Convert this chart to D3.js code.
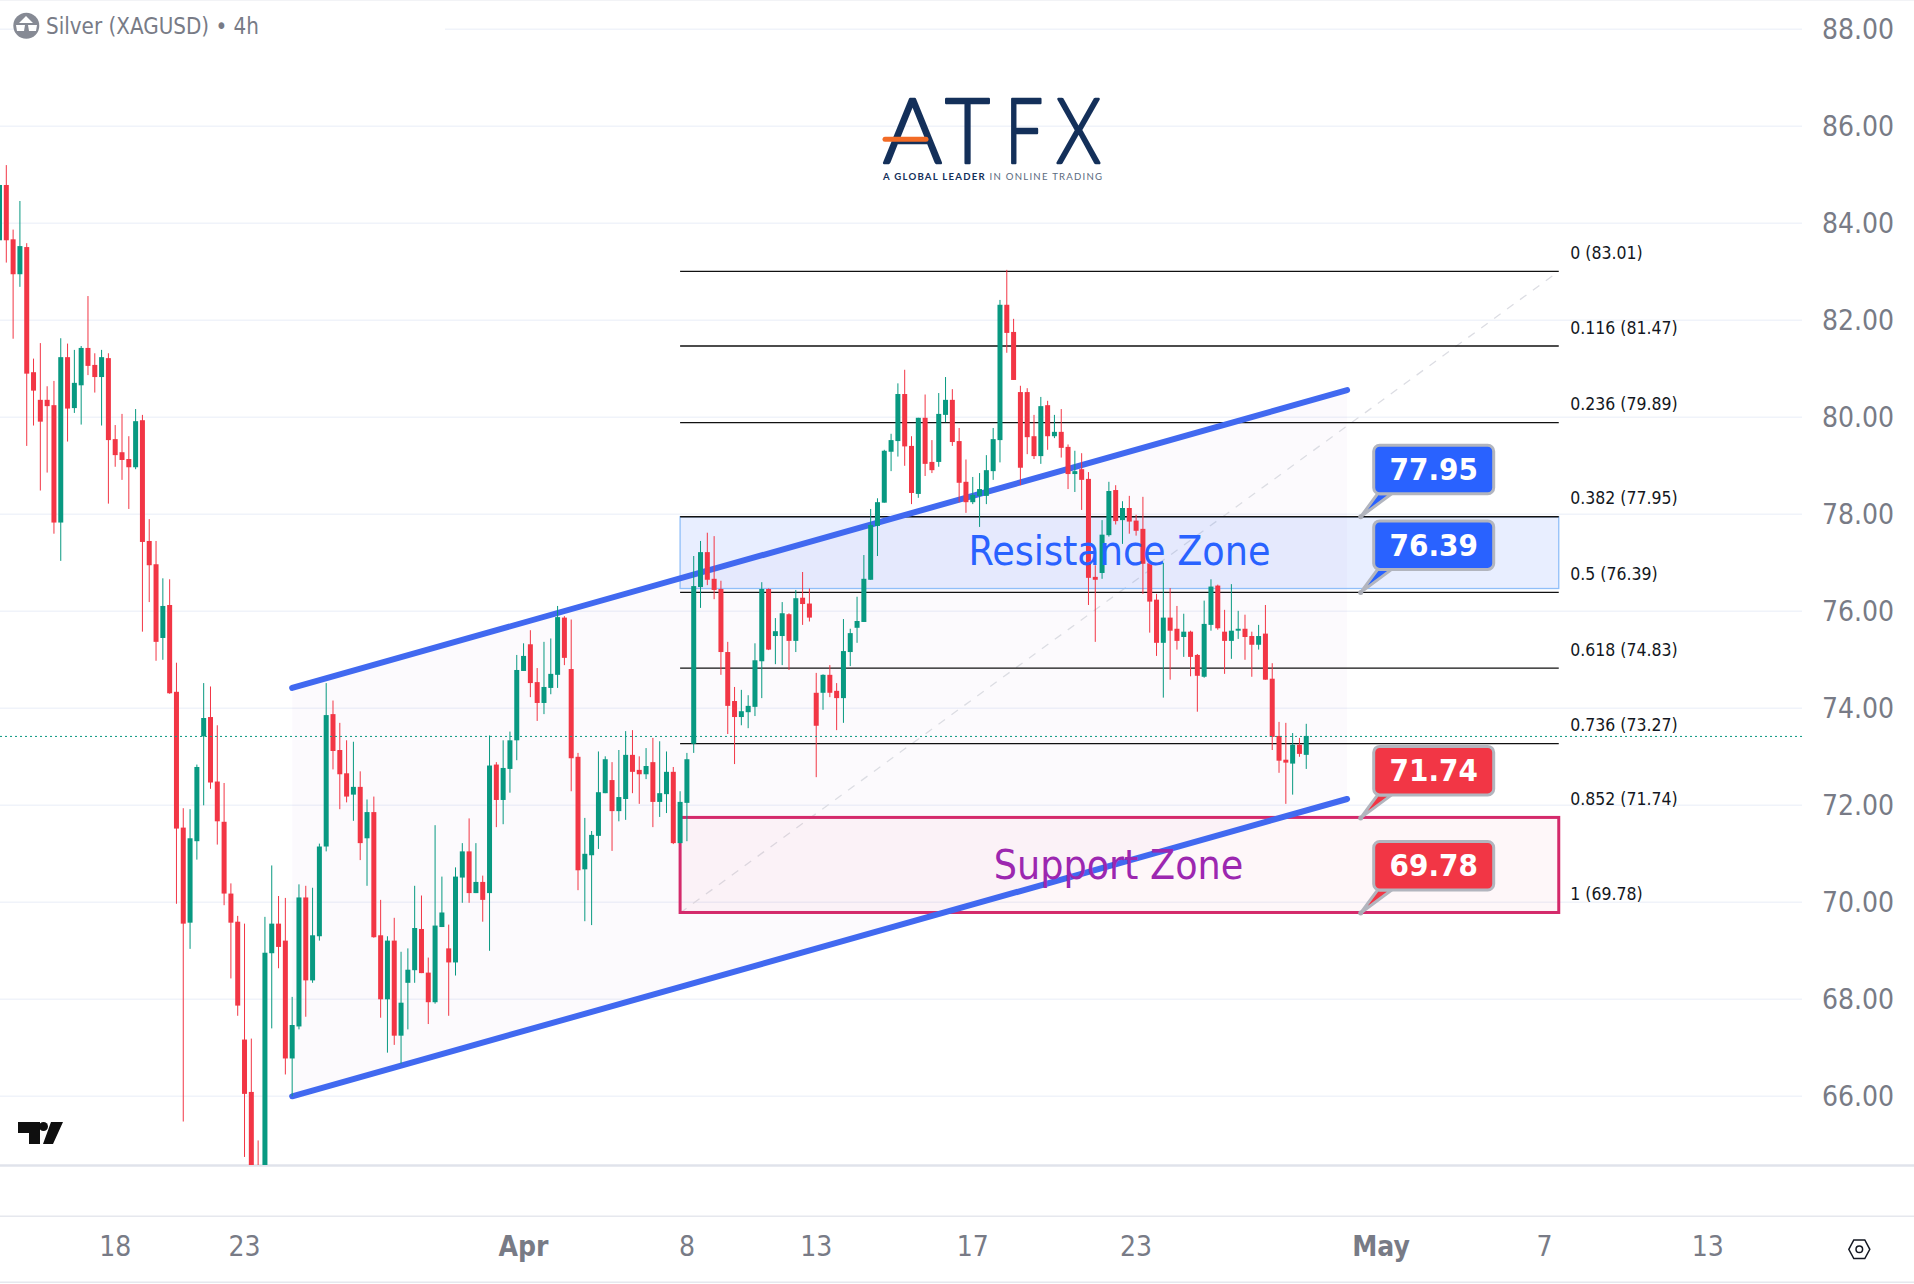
<!DOCTYPE html>
<html><head><meta charset="utf-8">
<script src="https://cdn.jsdelivr.net/npm/d3@7/dist/d3.min.js"></script>
<style>
html,body{margin:0;padding:0;background:#fff;overflow:hidden}
svg{display:block}
text{font-family:'DejaVu Sans Condensed','DejaVu Sans',sans-serif;font-stretch:condensed}
.logo{font-family:'Lato',sans-serif;font-stretch:normal}
</style></head><body>
<svg id="c" width="1914" height="1284"></svg>
<script>
const opens=[83.65,
84.79,83.67,82.95,83.51,80.93,80.36,80.36,80.25,77.83,81.24,
80.19,80.66,81.43,81.08,80.83,81.22,79.55,79.28,79.14,78.97,
79.94,77.45,76.97,75.45,76.13,74.34,71.54,69.58,71.26,73.42,
73.82,72.49,71.66,70.18,69.60,67.17,66.09,64.50,64.40,68.95,
69.56,69.21,66.78,67.44,70.10,68.39,69.30,71.15,73.88,73.14,
72.66,72.22,72.38,71.32,71.86,69.32,68.00,69.21,67.25,68.34,
68.60,69.45,68.55,67.94,69.49,69.05,68.76,70.51,71.05,70.19,
70.42,70.19,72.84,72.11,72.75,73.34,74.77,75.32,74.54,74.11,
74.42,74.69,75.87,74.81,73.00,70.68,70.97,71.37,72.25,72.52,
71.88,72.13,73.04,72.73,72.64,72.89,72.07,72.23,72.69,71.22,
72.05,73.27,76.50,77.22,76.67,76.46,75.16,74.15,73.82,73.92,
74.03,74.97,76.46,75.49,75.49,75.94,75.39,76.28,76.16,74.32,
74.32,74.69,74.36,74.21,75.16,75.66,75.78,76.65,77.76,78.24,
79.29,79.51,80.48,79.41,78.42,79.99,79.08,79.08,80.05,80.36,
79.51,78.67,78.25,78.38,78.38,78.89,79.53,82.32,81.76,80.52,
80.52,79.61,79.20,80.25,79.61,79.70,79.39,78.83,78.93,78.73,
76.71,76.79,77.57,78.50,77.88,78.13,77.87,77.70,76.99,76.24,
75.35,75.87,75.64,75.47,75.58,75.10,74.65,75.72,76.53,75.58,
75.39,75.60,75.64,75.49,75.31,75.54,74.61,73.43,72.94,72.86,73.25,73.04];
const closes=[84.79,
83.65,82.95,83.53,80.90,80.55,79.91,80.23,77.83,81.24,80.18,
80.71,81.43,81.06,80.83,81.24,79.53,79.22,79.12,78.97,79.92,
77.43,76.95,75.37,76.11,74.31,71.52,69.56,71.32,72.79,73.80,
72.47,71.67,70.18,69.58,67.87,66.05,64.40,64.30,68.96,69.56,
69.08,66.78,67.47,70.10,68.39,69.32,71.15,73.86,73.12,72.64,
72.18,72.38,71.22,71.86,69.28,68.00,69.21,67.25,67.93,68.61,
69.47,68.54,67.94,69.52,69.79,68.76,70.53,71.05,70.19,70.42,
70.05,72.82,72.11,72.77,73.34,74.79,75.08,74.52,74.11,74.44,
74.71,75.88,75.04,72.97,70.66,71.00,71.39,72.27,72.95,71.88,
72.17,73.04,72.69,72.64,72.81,72.07,72.25,72.69,71.22,72.07,
72.95,76.52,77.22,76.65,76.44,75.16,74.05,73.82,73.94,74.05,
74.99,76.46,75.21,75.59,75.96,75.39,76.27,76.15,75.87,73.64,
74.69,74.32,74.21,75.18,75.55,75.80,76.67,77.78,78.25,79.31,
79.53,80.48,79.40,78.44,79.99,79.04,78.91,80.07,80.36,79.49,
78.65,78.25,78.40,78.52,78.91,79.55,82.32,81.74,80.77,78.96,
79.59,79.20,80.23,79.61,79.70,79.37,78.83,78.89,78.71,76.69,
76.65,77.58,78.48,77.86,78.13,77.85,77.66,76.98,76.20,75.35,
75.87,75.60,75.39,75.58,75.06,74.67,75.74,76.51,75.65,75.39,
75.60,75.64,75.47,75.31,75.49,74.59,73.41,72.92,72.88,73.25,73.06,73.43];
const highs=[84.80,
85.20,83.87,84.46,83.59,81.21,81.53,80.64,80.75,81.63,81.52,
81.39,81.47,82.50,81.32,81.39,81.32,79.84,80.07,79.61,80.17,
80.05,77.90,77.45,76.68,76.66,74.94,71.94,71.92,72.84,74.52,
74.45,73.65,72.46,70.39,69.72,69.56,67.19,65.09,69.70,70.76,
70.13,70.09,68.05,70.37,70.34,70.30,71.21,74.52,74.16,73.70,
73.34,73.31,72.70,72.12,72.18,70.05,69.30,69.68,68.98,69.05,
70.34,70.14,68.86,71.59,70.53,69.54,70.72,71.22,71.73,71.22,
70.55,73.44,72.89,73.34,73.52,75.10,75.34,75.61,74.83,75.37,
75.44,76.11,75.90,75.83,73.08,71.74,71.47,73.11,73.01,72.89,
73.14,73.53,73.55,73.01,73.18,73.39,73.32,73.11,72.79,72.29,
73.08,77.14,77.45,77.62,77.55,76.63,75.37,74.44,74.38,74.27,
75.34,76.60,76.47,75.86,76.19,75.96,76.44,76.81,76.47,74.73,
74.70,74.89,74.52,75.84,75.64,76.30,77.16,78.11,78.33,79.33,
79.66,80.70,80.98,79.61,79.99,80.47,79.53,80.50,80.83,80.58,
79.78,79.13,78.77,78.85,79.22,79.78,82.42,83.04,82.03,80.65,
80.60,80.05,80.42,80.34,80.05,80.17,79.44,79.31,79.26,78.87,
76.95,77.88,78.67,78.60,78.27,78.38,77.99,78.36,76.99,76.36,
77.00,76.48,76.11,75.95,75.60,75.12,76.22,76.66,76.55,76.03,
76.56,76.01,75.93,75.58,75.72,76.13,74.93,73.72,73.70,73.49,73.39,73.68];
const lows=[83.60,
83.19,81.62,82.69,79.41,79.83,78.49,78.86,77.60,77.04,79.50,
80.09,79.85,80.87,80.51,79.83,78.22,78.98,78.71,78.11,78.93,
75.58,76.19,74.98,75.00,74.30,69.97,65.48,69.04,70.88,72.00,
72.34,71.19,69.94,68.43,67.66,64.75,64.10,64.00,64.10,67.40,
68.64,66.45,66.00,67.38,67.64,68.34,69.21,71.05,72.74,71.92,
72.06,71.68,70.87,70.34,69.27,67.62,66.90,67.06,66.67,67.38,
68.34,68.54,67.49,67.91,69.49,67.66,68.49,69.99,69.99,70.19,
69.60,69.00,71.55,71.61,72.26,72.93,74.77,74.23,73.74,73.88,
74.29,74.42,74.89,72.29,70.25,69.61,69.53,71.10,72.25,71.06,
71.67,71.70,72.25,72.03,72.54,71.55,71.76,71.84,71.20,71.22,
71.26,73.08,76.07,76.54,76.25,74.69,73.47,72.85,73.65,73.59,
73.84,74.21,75.20,74.91,74.89,74.79,75.16,75.72,75.79,72.58,
73.97,74.23,73.55,73.70,74.87,75.35,75.78,76.65,77.14,78.24,
78.89,79.19,79.00,78.21,78.34,78.79,78.85,78.98,79.90,79.41,
78.25,78.03,78.21,77.74,78.21,78.71,79.07,81.33,80.77,78.60,
79.24,79.14,79.04,79.33,79.57,79.17,78.52,78.46,78.09,76.13,
75.37,76.67,77.54,77.79,77.39,77.60,77.56,76.36,75.56,75.08,
74.22,74.59,75.21,75.06,74.66,73.93,74.63,75.60,75.62,74.71,
75.02,75.43,75.00,74.65,75.21,74.59,73.14,72.67,72.03,72.22,73.00,72.75];

const priceTicks=[66,68,70,72,74,76,78,80,82,84,86,88];
const timeTickIndex=[17,36,77,101,120,143,167,203,227,251];
const timeTickLabels=['18','23','Apr','8','13','17','23','May','7','13'];
const timeTickBold=[0,0,1,0,0,0,0,1,0,0];
const fibRatios=['0','0.116','0.236','0.382','0.5','0.618','0.736','0.852','1'];
const fibPrices=[83.01,81.47,79.89,77.95,76.39,74.83,73.27,71.74,69.78];
const fibStartIndex=100, fibEndIndex=229.1;
const channelIndex=[43,198];
const channelTop=[74.42,80.56];
const channelBottom=[66.0,72.13];
const resistanceZone=[77.95,76.47];
const supportZone=[71.75,69.79];
const calloutValues=[77.95,76.39,71.74,69.78];
const calloutColors=['#2962ff','#2962ff','#f23645','#f23645'];
const calloutIndex=200;
const lastPrice=73.42;
const logoLetters=['A','T','F','X'];
const logoLeft=[883,945,1005,1056];
const logoWidth=[59,45,38,45];

const W=1914,H=1284,plotR=1802,plotB=1165;
const x=d3.scaleLinear().domain([0,193]).range([-0.5,1313.06]);
const y=d3.scaleLinear().domain([66,88]).range([1096.3,29.3]);
const svg=d3.select('#c');
svg.append('defs').append('clipPath').attr('id','plot').append('rect')
  .attr('x',0).attr('y',0).attr('width',plotR).attr('height',plotB);

// grid
svg.append('g').selectAll('line').data(priceTicks).join('line')
  .attr('x1',0).attr('x2',plotR).attr('y1',d=>y(d)).attr('y2',d=>y(d))
  .attr('stroke','#f0f3fa').attr('stroke-width',1.5);
svg.append('rect').attr('x',30).attr('y',20).attr('width',415).attr('height',18).attr('fill','#fff');

// frame lines
[[0,1,'#e6e8ee'],[1165.5,2.5,'#e0e3eb'],[1216.3,1.5,'#e6e8ee'],[1282.3,1.5,'#e6e8ee']].forEach(l=>{
  svg.append('line').attr('x1',0).attr('x2',W).attr('y1',l[0]).attr('y2',l[0])
    .attr('stroke',l[2]).attr('stroke-width',l[1]);
});

const draw=svg.append('g').attr('clip-path','url(#plot)');
// channel
const chPts=[[channelIndex[0],channelTop[0]],[channelIndex[1],channelTop[1]],[channelIndex[1],channelBottom[1]],[channelIndex[0],channelBottom[0]]];
draw.append('path').attr('d',d3.line().x(d=>x(d[0])).y(d=>y(d[1]))(chPts)+'Z').attr('fill','rgba(170,90,180,0.03)');

// fib trend
draw.append('line').attr('x1',x(fibStartIndex)).attr('x2',x(fibEndIndex))
  .attr('y1',y(fibPrices[8])).attr('y2',y(fibPrices[0]))
  .attr('stroke','#dcdde3').attr('stroke-width',1.3).attr('stroke-dasharray','8 8');

// zones
draw.append('rect').attr('x',x(fibStartIndex)).attr('width',x(fibEndIndex)-x(fibStartIndex))
  .attr('y',y(resistanceZone[0])).attr('height',y(resistanceZone[1])-y(resistanceZone[0]))
  .attr('fill','rgba(41,98,255,0.105)').attr('stroke','#90bff9').attr('stroke-width',1.3);
draw.append('rect').attr('x',x(fibStartIndex)).attr('width',x(fibEndIndex)-x(fibStartIndex))
  .attr('y',y(supportZone[0])).attr('height',y(supportZone[1])-y(supportZone[0]))
  .attr('fill','rgba(240,40,100,0.04)').attr('stroke','#d42a6b').attr('stroke-width',3);

// fib lines & labels
draw.selectAll('.fib').data(fibPrices.slice(0,7)).join('line').attr('class','fib')
  .attr('x1',x(fibStartIndex)).attr('x2',x(fibEndIndex)).attr('y1',d=>y(d)).attr('y2',d=>y(d))
  .attr('stroke','#111').attr('stroke-width',1.3);
svg.selectAll('.fibl').data(fibPrices).join('text').attr('class','fibl')
  .attr('x',x(fibEndIndex)+11.5).attr('y',d=>y(d)-12.5).attr('font-size',17.5).attr('fill','#131722')
  .text((d,i)=>fibRatios[i]+' ('+d.toFixed(2)+')');

// channel lines
[channelTop,channelBottom].forEach(c=>{
  draw.append('line').attr('x1',x(channelIndex[0])).attr('x2',x(channelIndex[1]))
    .attr('y1',y(c[0])).attr('y2',y(c[1])).attr('stroke','#4169f0').attr('stroke-width',6).attr('stroke-linecap','round');
});

// zone text
svg.append('text').attr('x',1119.5).attr('y',565).attr('text-anchor','middle').attr('font-size',40.7).attr('fill','#2962ff').text('Resistance Zone');
svg.append('text').attr('x',1118.5).attr('y',879).attr('text-anchor','middle').attr('font-size',40.7).attr('fill','#9c27b0').text('Support Zone');

// candles
const up='#089981',down='#f23645';
const cg=draw.append('g');
const idx=d3.range(opens.length);
cg.selectAll('.w').data(idx).join('line').attr('class','w')
  .attr('x1',i=>x(i)).attr('x2',i=>x(i)).attr('y1',i=>y(highs[i])).attr('y2',i=>y(lows[i]))
  .attr('stroke',i=>closes[i]>=opens[i]?up:down).attr('stroke-width',1);
cg.selectAll('.b').data(idx).join('rect').attr('class','b')
  .attr('x',i=>x(i)-2.5).attr('width',5)
  .attr('y',i=>y(Math.max(opens[i],closes[i])))
  .attr('height',i=>Math.max(1,Math.abs(y(opens[i])-y(closes[i]))))
  .attr('fill',i=>closes[i]>=opens[i]?up:down);

// last price
svg.append('line').attr('x1',0).attr('x2',plotR).attr('y1',y(lastPrice)).attr('y2',y(lastPrice))
  .attr('stroke','#089981').attr('stroke-width',1).attr('stroke-dasharray','2 3');

// callouts
calloutValues.forEach((v,i)=>{
  const tx=x(calloutIndex),ty=y(v),bx=tx+13,bw=120,by=ty-71.5,bh=48.5;
  const g=svg.append('g');
  g.append('path').attr('d',`M${bx+4},${by+bh} L${tx},${ty} L${bx+18},${by+bh} Z`)
    .attr('fill',calloutColors[i]).attr('stroke','#b2b5be').attr('stroke-width',3).attr('stroke-linejoin','round');
  g.append('circle').attr('cx',tx).attr('cy',ty).attr('r',2.5).attr('fill','#a9acb5');
  g.append('rect').attr('x',bx).attr('y',by).attr('width',bw).attr('height',bh).attr('rx',6)
    .attr('fill',calloutColors[i]).attr('stroke','#b2b5be').attr('stroke-width',3);
  g.append('text').attr('x',bx+bw/2).attr('y',by+bh/2+10.5).attr('text-anchor','middle')
    .attr('font-size',31).attr('font-weight','bold').attr('fill','#fff').text(v.toFixed(2));
});

// price axis
const ya=svg.append('g').attr('transform','translate(1822,0.5)')
  .call(d3.axisRight(y).tickValues(priceTicks).tickSize(0).tickPadding(0).tickFormat(d=>d.toFixed(2)));
ya.select('.domain').remove();
ya.selectAll('text').attr('font-size',28).attr('fill','#787b86').style("font-family","'DejaVu Sans Condensed','DejaVu Sans',sans-serif");

// time axis
svg.append('g').selectAll('text').data(timeTickIndex).join('text')
  .attr('x',d=>x(d)).attr('y',1256).attr('text-anchor','middle').attr('font-size',28)
  .attr('font-weight',(d,i)=>timeTickBold[i]?'bold':'normal').attr('fill','#787b86')
  .text((d,i)=>timeTickLabels[i]);

// legend
svg.append('circle').attr('cx',26.3).attr('cy',25.7).attr('r',13).attr('fill','#868a94');
svg.append('path').attr('d','M26,16 L33,23 L19,23 Z M16,25 L25,25 L24,31 L17,31 Z M28,25 L37,25 L36,31 L29,31 Z').attr('fill','#fff');
svg.append('text').attr('x',46).attr('y',34).attr('font-size',23.5).attr('textLength',213).attr('lengthAdjust','spacingAndGlyphs').attr('fill','#787b86').text('Silver (XAGUSD) • 4h');

// TV logo
svg.append('path').attr('d','M18,1122 L40,1122 L40,1144 L29,1144 L29,1133 L18,1133 Z M51,1122 L63,1122 L53,1144 L43,1144 Z').attr('fill','#0f0f0f');
svg.append('circle').attr('cx',43.5).attr('cy',1126.5).attr('r',4.5).attr('fill','#0f0f0f');

// settings
const hex=[[-10.5,0],[-5.5,-9.3],[5.5,-9.3],[10.5,0],[5.5,9.3],[-5.5,9.3]];
const sg=svg.append('g').attr('transform','translate(1859.3,1249.3)');
sg.append('path').attr('d','M'+hex.join('L')+'Z').attr('fill','none').attr('stroke','#131722').attr('stroke-width',1.5);
sg.append('circle').attr('r',3.3).attr('fill','none').attr('stroke','#131722').attr('stroke-width',1.5);

// brand
const bg=svg.append('g');
bg.selectAll('.ll').data(logoLetters).join('text').attr('class','logo ll')
  .attr('x',(d,i)=>logoLeft[i]).attr('y',162.5).attr('font-size',90).attr('font-weight',300)
  .attr('textLength',(d,i)=>logoWidth[i]).attr('lengthAdjust','spacingAndGlyphs')
  .attr('fill','#14305a').attr('stroke','#14305a').attr('stroke-width',2.6).attr('stroke-linejoin','round').text(d=>d);
bg.append('line').attr('x1',885).attr('x2',926).attr('y1',139.3).attr('y2',139.3).attr('stroke','#f26b26').attr('stroke-width',5).attr('stroke-linecap','round');
const tag=bg.append('text').attr('class','logo').attr('x',883).attr('y',180).attr('font-size',9.6).attr('letter-spacing',1.25);
tag.append('tspan').attr('font-weight','bold').attr('fill','#14305a').text('A GLOBAL LEADER ');
tag.append('tspan').attr('fill','#5a6a80').text('IN ONLINE TRADING');
</script>
</body></html>
